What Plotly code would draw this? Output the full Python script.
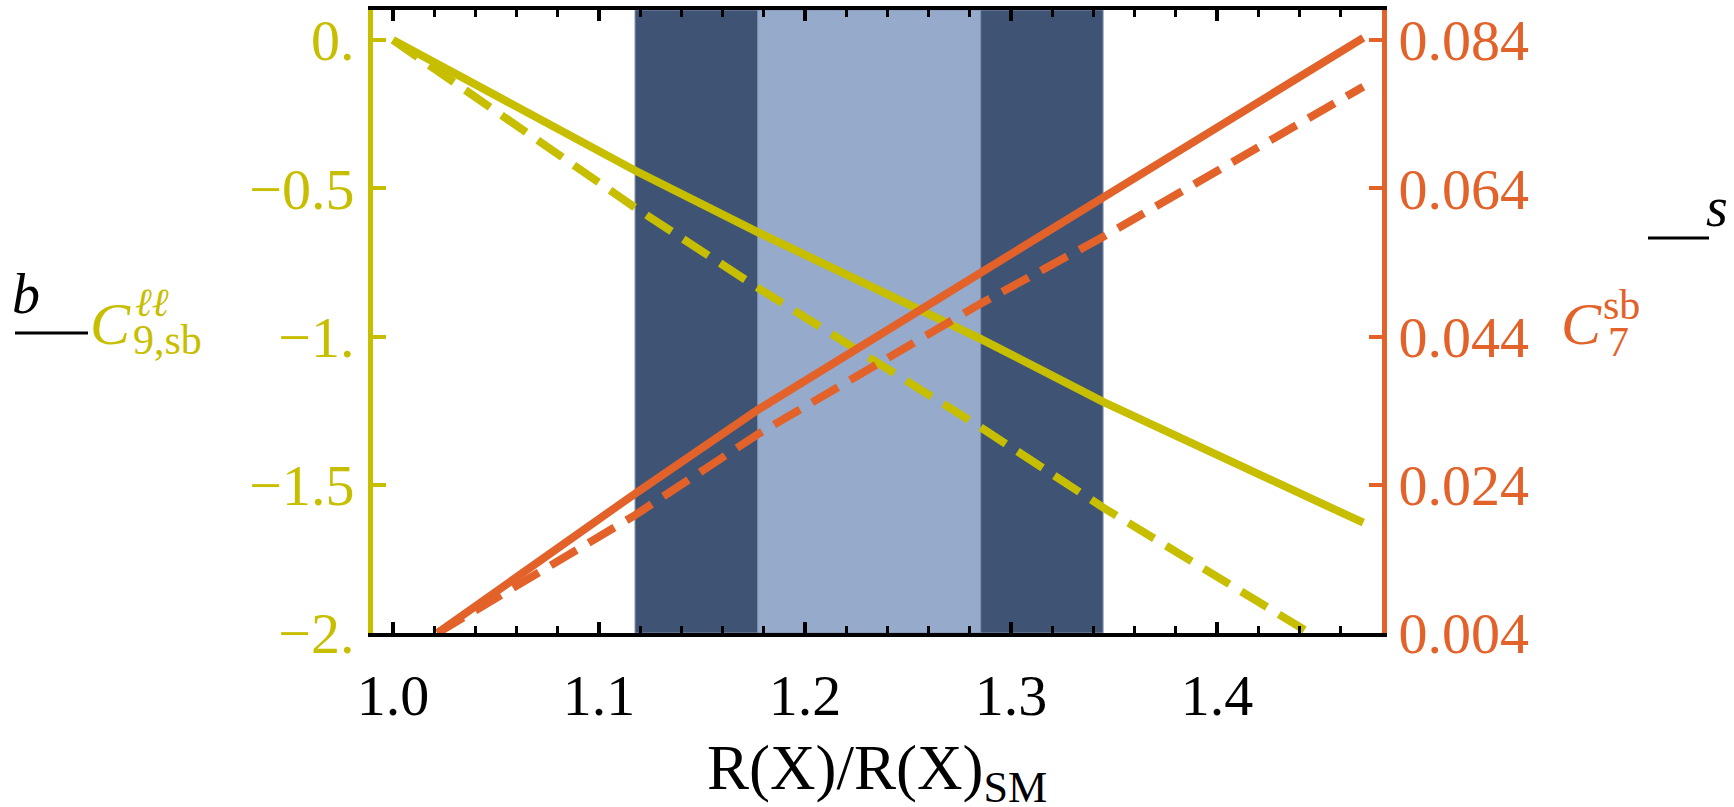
import plotly.graph_objects as go

# ---- data ----
x_c9_solid = [1.0, 1.1175, 1.177, 1.285, 1.345, 1.471]
c9_solid = [0.0, -0.44, -0.648, -1.007, -1.221, -1.628]
x_c9_dash = [1.0, 1.1175, 1.177, 1.285, 1.345, 1.445]
c9_dash = [0.0, -0.565, -0.835, -1.305, -1.578, -2.0]

x_c7 = [1.0216, 1.1175, 1.177, 1.285, 1.345, 1.471]
c7_solid = [0.004, 0.0228, 0.0341, 0.0527, 0.0628, 0.0843]
c7_dash = [0.004, 0.0199, 0.0308, 0.0484, 0.0575, 0.0777]

band_2sigma = [1.1175, 1.3447]
band_1sigma = [1.177, 1.2853]

x_ticks = [1.0, 1.1, 1.2, 1.3, 1.4]
x_ticktext = ["1.0", "1.1", "1.2", "1.3", "1.4"]
yl_ticks = [0.0, -0.5, -1.0, -1.5, -2.0]
yl_ticktext = ["0.", "\u22120.5", "\u22121.", "\u22121.5", "\u22122."]
yr_ticks = [0.084, 0.064, 0.044, 0.024, 0.004]
yr_ticktext = ["0.084", "0.064", "0.044", "0.024", "0.004"]

YEL = "#c8be00"
ORA = "#e2622a"
DARK = "#3f5475"
LIGHT = "#96aacb"
FONT = "'Liberation Serif', 'Times New Roman', Times, serif"

W, H = 1734, 807
L, R, T, B = 373, 1382, 10, 633


def px(x):
    return (x - L) / (R - L)


def py(y):
    return (B - y) / (B - T)


fig = go.Figure()
fig.add_trace(go.Scatter(x=x_c9_solid, y=c9_solid, mode="lines",
                         line=dict(color=YEL, width=8), yaxis="y", showlegend=False))
fig.add_trace(go.Scatter(x=x_c9_dash, y=c9_dash, mode="lines",
                         line=dict(color=YEL, width=8, dash="30px,14px"), yaxis="y", showlegend=False))
fig.add_trace(go.Scatter(x=x_c7, y=c7_solid, mode="lines",
                         line=dict(color=ORA, width=8), yaxis="y2", showlegend=False))
fig.add_trace(go.Scatter(x=x_c7, y=c7_dash, mode="lines",
                         line=dict(color=ORA, width=8, dash="30px,14px"), yaxis="y2", showlegend=False))

shapes = [
    dict(type="rect", xref="x", yref="paper", x0=band_2sigma[0], x1=band_2sigma[1], y0=0, y1=1,
         fillcolor=DARK, line=dict(color="#7f8fa8", width=1), layer="below"),
    dict(type="rect", xref="x", yref="paper", x0=band_1sigma[0], x1=band_1sigma[1], y0=0, y1=1,
         fillcolor=LIGHT, line=dict(color="#7f8fa8", width=1), layer="below"),
    # fraction-like bars in the axis labels
    dict(type="line", xref="paper", yref="paper", x0=px(15), x1=px(88), y0=py(333), y1=py(333),
         line=dict(color="black", width=3)),
    dict(type="line", xref="paper", yref="paper", x0=px(1648), x1=px(1709), y0=py(238), y1=py(238),
         line=dict(color="black", width=3)),
]

ann = []


def add_text(text, x, y, size, color, xanchor="left", yanchor="middle"):
    ann.append(dict(text=text, x=px(x), y=py(y), xref="paper", yref="paper", showarrow=False,
                    xanchor=xanchor, yanchor=yanchor,
                    font=dict(family=FONT, size=size, color=color)))


# left label: b / C^{ll}_{9,sb}
add_text("<i>b</i>", 26, 294, 56, "black", xanchor="center")
add_text("<i>C</i>", 88, 324, 60, YEL)
add_text("<i>\u2113\u2113</i>", 133, 302, 40, YEL)
add_text("9,sb", 131, 340, 42, YEL)
# right label: _s  C_7^{sb}
add_text("<i>s</i>", 1717, 207, 56, "black", xanchor="center")
add_text("<i>C</i>", 1559, 324, 60, ORA)
add_text("sb", 1601, 305, 42, ORA)
add_text("7", 1606, 342, 42, ORA)
# x-axis title
add_text("R(X)/R(X)<sub>SM</sub>", 877, 772, 63, "black", xanchor="center")

fig.update_layout(
    width=W, height=H,
    margin=dict(l=L, r=W - R, t=T, b=H - B, autoexpand=False),
    paper_bgcolor="white", plot_bgcolor="white",
    font=dict(family=FONT, size=58, color="black"),
    shapes=shapes, annotations=ann,
    xaxis=dict(range=[0.9903, 1.4801], showgrid=False, zeroline=False, automargin=False,
               showline=True, linecolor="black", linewidth=4, mirror="ticks",
               ticks="inside", ticklen=11, tickwidth=4, tickcolor="black",
               tickvals=x_ticks, ticktext=x_ticktext,
               tickfont=dict(family=FONT, size=58, color="black"), ticklabelstandoff=8,
               minor=dict(dtick=0.02, tick0=1.0, ticks="inside", ticklen=7, tickwidth=3,
                          tickcolor="black", showgrid=False)),
    yaxis=dict(range=[-2.0, 0.1014], showgrid=False, zeroline=False, automargin=False,
               showline=True, linecolor=YEL, linewidth=5, mirror=False,
               ticks="inside", ticklen=13, tickwidth=4, tickcolor=YEL,
               tickvals=yl_ticks, ticktext=yl_ticktext,
               tickfont=dict(family=FONT, size=58, color=YEL), ticklabelstandoff=2),
    yaxis2=dict(range=[0.004, 0.08805], overlaying="y", side="right", showgrid=False, zeroline=False,
                automargin=False,
                showline=True, linecolor=ORA, linewidth=5,
                ticks="inside", ticklen=13, tickwidth=4, tickcolor=ORA,
                tickvals=yr_ticks, ticktext=yr_ticktext,
                tickfont=dict(family=FONT, size=58, color=ORA), ticklabelstandoff=0),
)

fig.write_html("out.html")
